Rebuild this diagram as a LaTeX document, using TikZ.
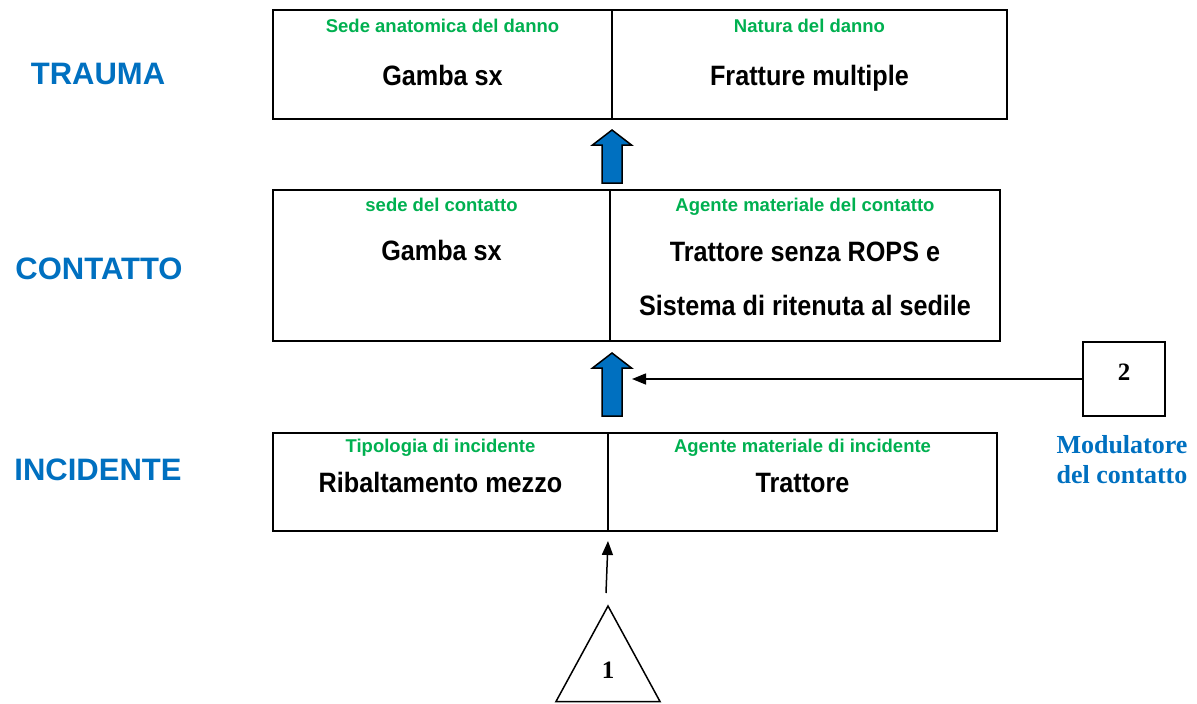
\documentclass[tikz,border=0pt]{standalone}
\usepackage{fontspec}
\setmainfont{Liberation Sans}
\newfontfamily\narrowfont{Liberation Sans}[FakeStretch=0.9]
\newfontfamily\timesfont{Liberation Serif}
\usetikzlibrary{arrows.meta}
\definecolor{titlegreen}{HTML}{00B050}
\definecolor{levelblue}{HTML}{0070C0}
% x, tip y, foot y
\newcommand{\upblock}[3]{%
  \draw[upblock] (#1,#2) -- (#1+19.5,#2+15) -- (#1+10,#2+15) -- (#1+10,#3)
    -- (#1-10,#3) -- (#1-10,#2+15) -- (#1-19.5,#2+15) -- cycle;}

\begin{document}
\begin{tikzpicture}[x=1pt,y=-1pt,>={Triangle[length=14pt,width=11pt]},line width=1.5pt]
    \tikzstyle{cell}=[draw=black,line width=2pt,inner sep=0pt]
    \tikzstyle{level}=[text=levelblue,font=\fontsize{31}{36}\selectfont\bfseries]
    \tikzstyle{title}=[anchor=base,text=titlegreen,font=\fontsize{18.5}{22}\selectfont\bfseries]
    \tikzstyle{fact}=[anchor=base,font=\fontsize{28}{30}\selectfont\bfseries\narrowfont]
    \tikzstyle{upblock}=[draw=black,fill=levelblue,line width=1.5pt]
    \tikzstyle{numero}=[font=\fontsize{25}{28}\selectfont\timesfont\bfseries]
    \useasboundingbox (0,0) rectangle (1197,704);
    % livelli
    \node[level] (trauma) at (98,74) {TRAUMA};
    \node[level] (contatto) at (99,269) {CONTATTO};
    \node[level] (incidente) at (98,470) {INCIDENTE};
    % trauma
    \node[cell,minimum width=339,minimum height=109] (sede) at (442.5,64.5) {};
    \node[cell,minimum width=395,minimum height=109] (natura) at (809.5,64.5) {};
    \node[title] (sedeT) at (442.5,32) {Sede anatomica del danno};
    \node[fact] (sedeV) at (442.5,85) {Gamba sx};
    \node[title] (naturaT) at (809.5,32) {Natura del danno};
    \node[fact] (naturaV) at (809.5,85) {Fratture multiple};
    % contatto
    \node[cell,minimum width=337,minimum height=151] (sedec) at (441.5,265.5) {};
    \node[cell,minimum width=390,minimum height=151] (agentec) at (805,265.5) {};
    \node[title] (sedecT) at (441.5,211) {sede del contatto};
    \node[fact] (sedecV) at (441.5,260) {Gamba sx};
    \node[title] (agentecT) at (805,211) {Agente materiale del contatto};
    \node[fact] (agentecV) at (805,261) {Trattore senza ROPS e};
    \node[fact] (agentecW) at (805,315) {Sistema di ritenuta al sedile};
    % incidente
    \node[cell,minimum width=335,minimum height=98] (tipo) at (440.5,482) {};
    \node[cell,minimum width=389,minimum height=98] (agentei) at (802.5,482) {};
    \node[title] (tipoT) at (440.5,452) {Tipologia di incidente};
    \node[fact] (tipoV) at (440.5,492) {Ribaltamento mezzo};
    \node[title] (agenteiT) at (802.5,452) {Agente materiale di incidente};
    \node[fact] (agenteiV) at (802.5,492) {Trattore};
    % frecce blu
    \upblock{612}{130}{183}
    \upblock{612}{353}{416}
    % modulatore
    \node[draw,line width=1.5pt,minimum width=82,minimum height=74] (due) at (1124,379) {};
    \node[numero] (dueN) at (1124,372) {2};
    \node[numero,text=levelblue,align=center,font=\fontsize{26}{30}\selectfont\timesfont\bfseries]
      (mod) at (1122,460) {Modulatore\\del contatto};
    \coordinate (modend) at (632,379);
    \draw[->] (due) -- (modend);
    % triangolo
    \coordinate (apice) at (608,606);
    \draw[line width=1.5pt,line join=miter] (556,701.5) -- (apice) -- (660,701.5) -- cycle;
    \node[numero] (unoN) at (608,670) {1};
    \coordinate (unotop) at (606,593);
    \coordinate (incfoot) at (608,541);
    \draw[->] (unotop) -- (incfoot);
\end{tikzpicture}
\end{document}
